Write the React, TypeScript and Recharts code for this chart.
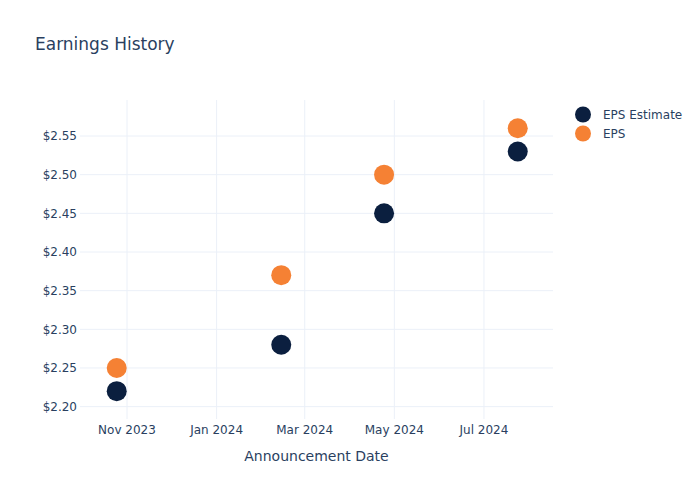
import React from "react";
import { ScatterChart, Scatter, XAxis, YAxis, CartesianGrid } from "recharts";

const dates = ["2023-10-25", "2024-02-14", "2024-04-24", "2024-07-24"];
const epsEstimate = [2.22, 2.28, 2.45, 2.53];
const epsActual = [2.25, 2.37, 2.5, 2.56];
const xTickDates = ["2023-11-01", "2024-01-01", "2024-03-01", "2024-05-01", "2024-07-01"];
const yTicks = [2.2, 2.25, 2.3, 2.35, 2.4, 2.45, 2.5, 2.55];
const xDomainDates = ["2023-09-30", "2024-08-17"];
const yDomain = [2.184, 2.5966];
const monthNames = ["Jan", "Feb", "Mar", "Apr", "May", "Jun", "Jul", "Aug", "Sep", "Oct", "Nov", "Dec"];

const toTs = (s: string) => {
  const [y, m, d] = s.split("-").map(Number);
  return Date.UTC(y, m - 1, d);
};

const estimateData = dates.map((d, i) => ({ x: toTs(d), y: epsEstimate[i] }));
const epsData = dates.map((d, i) => ({ x: toTs(d), y: epsActual[i] }));
const xTicks = xTickDates.map(toTs);
const xDomain = xDomainDates.map(toTs);

const NAVY = "#0b1f3f";
const ORANGE = "#f58134";
const TEXT = "#2a3f5f";
const GRID = "#ebf0f8";
const FONT = "'DejaVu Sans', Verdana, sans-serif";

const fmtDate = (v: number) => {
  const d = new Date(v);
  return `${monthNames[d.getUTCMonth()]} ${d.getUTCFullYear()}`;
};

const dot = (color: string) => (props: any) => (
  <circle cx={props.cx} cy={props.cy} r={10} fill={color} />
);

const legendItems = [
  { name: "EPS Estimate", color: NAVY },
  { name: "EPS", color: ORANGE },
];

const LegendBox = () => (
  <div style={{ position: "absolute", left: 574, top: 105, fontFamily: FONT, fontSize: 12, color: TEXT }}>
    {legendItems.map((it) => (
      <div key={it.name} style={{ display: "flex", alignItems: "center", height: 19 }}>
        <svg width={20} height={19} style={{ marginRight: 9 }}>
          <circle cx={9} cy={9.5} r={8} fill={it.color} />
        </svg>
        <span>{it.name}</span>
      </div>
    ))}
  </div>
);

export default function App() {
  return (
    <div style={{ position: "absolute", left: 0, top: 0, width: 700, height: 500, background: "#fff", fontFamily: FONT }}>
      <div style={{ position: "absolute", left: 35, top: 34, fontSize: 17, lineHeight: "20px", color: TEXT }}>
        Earnings History
      </div>
      <ScatterChart width={700} height={500} margin={{ top: 100, right: 147, bottom: 21, left: 0 }}>
        <CartesianGrid stroke={GRID} strokeWidth={1} horizontalValues={yTicks} verticalValues={xTicks} />
        <XAxis
          type="number"
          dataKey="x"
          domain={xDomain}
          ticks={xTicks}
          tickFormatter={fmtDate}
          axisLine={false}
          tickLine={false}
          tickSize={0}
          tickMargin={6}
          height={60}
          allowDataOverflow
          tick={{ fill: TEXT, fontSize: 12, fontFamily: FONT }}
          label={{ value: "Announcement Date", position: "insideBottom", offset: 18, fill: TEXT, fontSize: 14, fontFamily: FONT }}
        />
        <YAxis
          type="number"
          dataKey="y"
          domain={yDomain}
          ticks={yTicks}
          tickFormatter={(v: number) => `$${v.toFixed(2)}`}
          axisLine={false}
          tickLine={false}
          tickSize={0}
          tickMargin={3}
          width={80}
          allowDataOverflow
          tick={{ fill: TEXT, fontSize: 12, fontFamily: FONT }}
        />
        <Scatter name="EPS Estimate" data={estimateData} fill={NAVY} shape={dot(NAVY)} isAnimationActive={false} />
        <Scatter name="EPS" data={epsData} fill={ORANGE} shape={dot(ORANGE)} isAnimationActive={false} />
      </ScatterChart>
      <LegendBox />
    </div>
  );
}
